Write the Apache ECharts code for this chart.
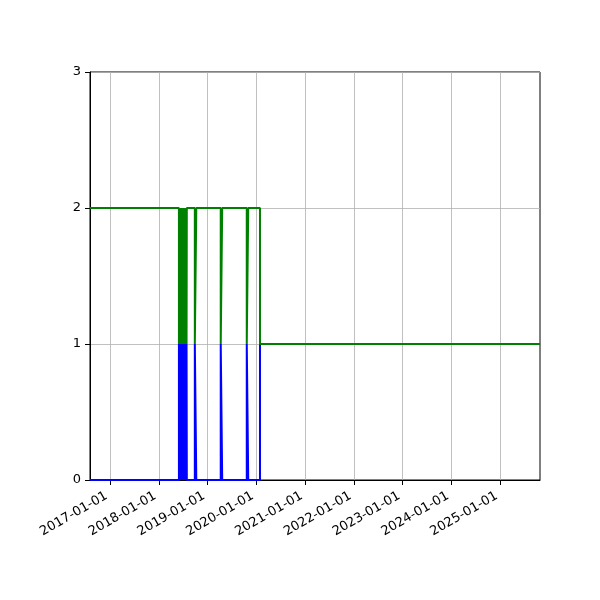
<!DOCTYPE html>
<html>
<head>
<meta charset="utf-8">
<script src="https://cdn.jsdelivr.net/npm/echarts@6/dist/echarts.min.js"></script>
<style>
  html, body { margin: 0; padding: 0; background: #fff; }
  #chart { width: 600px; height: 600px; }
</style>
</head>
<body>
<div id="chart"></div>
<script>
// change points: each value holds until the next date
const datas = [
  "2016-08-04",
  "2018-06-01", "2018-06-04", "2018-06-05", "2018-06-08", "2018-06-09", "2018-06-12",
  "2018-06-13", "2018-06-17", "2018-06-18", "2018-06-22", "2018-06-23", "2018-06-27",
  "2018-06-28", "2018-07-02", "2018-07-03", "2018-07-07", "2018-07-08", "2018-07-12",
  "2018-07-13", "2018-07-17", "2018-07-18", "2018-07-22", "2018-07-23", "2018-07-27",
  "2018-07-28", "2018-07-30",
  "2018-09-28", "2018-10-09",
  "2019-04-10", "2019-04-21",
  "2019-10-22", "2019-11-02",
  "2020-01-29",
  "2025-10-26"
];
const valoresAzul = [
  0,
  1, 0, 1, 0, 1, 0,
  1, 0, 1, 0, 1, 0,
  1, 0, 1, 0, 1, 0,
  1, 0, 1, 0, 1, 0,
  1, 0,
  1, 0,
  1, 0,
  1, 0,
  1,
  1
];
const valoresVerde = [
  2,
  1, 2, 1, 2, 1, 2,
  1, 2, 1, 2, 1, 2,
  1, 2, 1, 2, 1, 2,
  1, 2, 1, 2, 1, 2,
  1, 2,
  1, 2,
  1, 2,
  1, 2,
  1,
  1
];
const ticksX = ["2017-01-01", "2018-01-01", "2019-01-01", "2020-01-01", "2021-01-01",
                "2022-01-01", "2023-01-01", "2024-01-01", "2025-01-01"];
const ticksY = [0, 1, 2, 3];

const fonte = "DejaVu Sans";
const paraTempo = d => Date.UTC(+d.slice(0, 4), +d.slice(5, 7) - 1, +d.slice(8, 10));
const tempoTicks = ticksX.map(paraTempo);

function formatarData(v) {
  const d = new Date(v);
  const p = n => String(n).padStart(2, "0");
  return d.getUTCFullYear() + "-" + p(d.getUTCMonth() + 1) + "-" + p(d.getUTCDate());
}

const chart = echarts.init(document.getElementById("chart"), null, { renderer: "canvas" });
chart.setOption({
  animation: false,
  backgroundColor: "#fff",
  grid: {
    left: 90, right: 60, top: 72, bottom: 120,
    show: true, borderColor: "#000", borderWidth: 1, backgroundColor: "transparent"
  },
  xAxis: {
    type: "value",
    min: paraTempo(datas[0]),
    max: paraTempo(datas[datas.length - 1]),
    axisLine: { show: true, lineStyle: { color: "#000", width: 1 } },
    axisTick: { show: true, length: 5, lineStyle: { color: "#000" }, customValues: tempoTicks },
    splitLine: { show: true, lineStyle: { color: "#b0b0b0", width: 0.8 } },
    axisLabel: {
      customValues: tempoTicks,
      rotate: 30,
      margin: 13,
      padding: [0, 4, 0, 0],
      color: "#000",
      fontFamily: fonte,
      fontSize: 13,
      formatter: formatarData
    }
  },
  yAxis: {
    type: "value",
    min: ticksY[0],
    max: ticksY[ticksY.length - 1],
    interval: 1,
    axisLine: { show: true, lineStyle: { color: "#000", width: 1 } },
    axisTick: { show: true, length: 5, lineStyle: { color: "#000" } },
    splitLine: { show: true, lineStyle: { color: "#b0b0b0", width: 0.8 } },
    axisLabel: { color: "#000", fontFamily: fonte, fontSize: 13, margin: 9 }
  },
  series: [
    {
      type: "line",
      step: "end",
      symbol: "none",
      lineStyle: { color: "#0000ff", width: 2 },
      data: datas.map((d, i) => [paraTempo(d), valoresAzul[i]])
    },
    {
      type: "line",
      step: "end",
      symbol: "none",
      lineStyle: { color: "#008000", width: 2 },
      data: datas.map((d, i) => [paraTempo(d), valoresVerde[i]])
    }
  ]
});
</script>
</body>
</html>
